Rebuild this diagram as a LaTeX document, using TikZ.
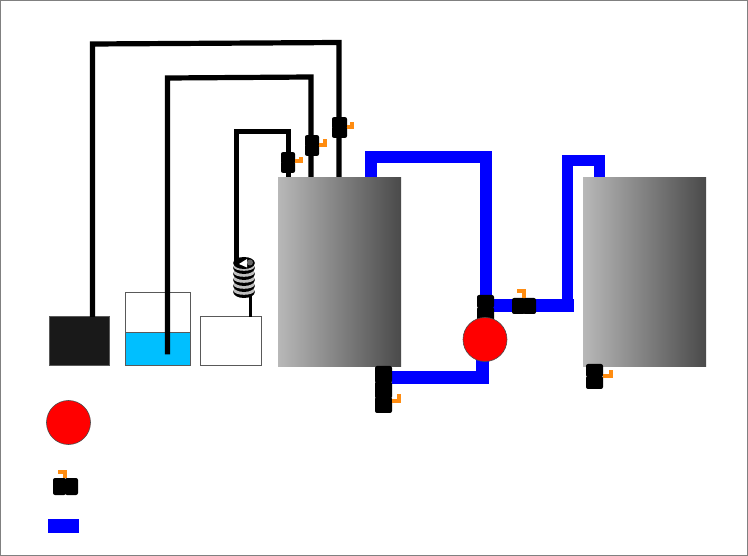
\documentclass[tikz,border=0pt]{standalone}
\usepackage{tikz}
\definecolor{tankleft}{HTML}{B8B8B8}
\definecolor{tankright}{HTML}{4A4A4A}
\definecolor{water}{HTML}{00BFFF}
\definecolor{handlecol}{HTML}{FF8C10}
\tikzset{
  tank/.style = {shape = rectangle, inner sep = 0pt, minimum width = 123pt, minimum height = 189pt, left color = tankleft, right color = tankright},
  box/.style = {shape = rectangle, inner sep = 0pt, draw = black!65, line width = 0.8pt},
  pump/.style = {shape = circle, inner sep = 0pt, minimum size = 44pt, fill = red, draw = black!70, line width = 0.6pt},
  wire/.style = {line width = 5.2pt, miter limit = 10},
  pipe/.style = {draw = blue, line width = 12pt},
  valvepart/.style = {shape = rectangle, inner sep = 0pt, fill = black, rounded corners = 2pt},
  handle/.style = {draw = handlecol, line width = 4pt}
}
\begin{document}
\begin{tikzpicture}[x = 1pt, y = -1pt]
\useasboundingbox (0,0) rectangle (748,556);
\draw[black!50, line width = 1.2pt] (0,0) rectangle (748,556);
% vessels
\node[box, fill = black!90, minimum width = 60pt, minimum height = 49pt] (source) at (79.3,341) {};
\node[box, minimum width = 65pt, minimum height = 73.5pt] (beaker) at (157.5,328.8) {};
\node[box, fill = water, minimum width = 65pt, minimum height = 33.5pt] (liquid) at (157.5,348.8) {};
\node[box, minimum width = 61pt, minimum height = 49pt] (trap) at (230.8,341) {};
% tubing to the first tank
\coordinate (a0) at (92.5,317);
\coordinate (a1) at (92.5,44);
\coordinate (a2) at (339,42.5);
\coordinate (a3) at (339,178);
\coordinate (b0) at (167.5,354.5);
\coordinate (b1) at (167.5,78);
\coordinate (b2) at (311,77);
\coordinate (b3) at (311,178);
\coordinate (c0) at (236.5,262);
\coordinate (c1) at (236.5,131.5);
\coordinate (c2) at (288.5,131.5);
\coordinate (c3) at (288.5,178);
\coordinate (d0) at (250.5,317);
\coordinate (d1) at (250.5,296);
\draw[wire] (a0) -- (a1) -- (a2) -- (a3);
\draw[wire] (b0) -- (b1) -- (b2) -- (b3);
\draw[wire] (c0) -- (c1) -- (c2) -- (c3);
\draw[line width = 3.5pt] (d0) -- (d1);
% cooling coil
\foreach \y in {292,286,280,274,268} {
  \fill[black] (244,\y) ellipse (10.8 and 6);
  \fill[black!25] (244,\y-1.2) ellipse (10.4 and 4);
  \fill[white] (244,\y-2.2) ellipse (8 and 2);
}
\fill[black] (244,263) ellipse (10.8 and 6);
\fill[black!60] (250,262.5) ellipse (3 and 3);
\fill[white] (239,264) -- (247,259) -- (247,267.5) -- cycle;
% blue loop
\coordinate (e0) at (371,178);
\coordinate (e1) at (371,157.5);
\coordinate (e2) at (486,157.5);
\coordinate (e3) at (486,305);
\coordinate (f0) at (573.5,305.5);
\coordinate (g0) at (567.5,305.5);
\coordinate (g1) at (567.5,161);
\coordinate (g2) at (599,161);
\coordinate (g3) at (599,178);
\coordinate (h0) at (392,377.5);
\coordinate (h1) at (482.5,377.5);
\coordinate (h2) at (482.5,350);
\draw[pipe] (e0) -- (e1) -- (e2) -- (e3);
\draw[pipe, line width = 13pt] (e3 |- f0) -- (f0);
\draw[pipe, line width = 11pt] (g0) -- (g1) -- (g2) -- (g3);
\draw[pipe, line width = 13pt] (h0) -- (h1) -- (h2);
% tanks
\node[tank] (tankA) at (339.5,272) {};
\node[tank] (tankB) at (644.5,272) {};
% valves
\node[valvepart, minimum width = 14pt, minimum height = 11.5pt] (v1a) at (288,157.8) {};
\node[valvepart, minimum width = 14pt, minimum height = 11.5pt] (v1b) at (288,167.2) {};
\node[valvepart, minimum width = 14pt, minimum height = 11.5pt] (v2a) at (312,140.8) {};
\node[valvepart, minimum width = 14pt, minimum height = 11.5pt] (v2b) at (312,150.2) {};
\node[valvepart, minimum width = 15pt, minimum height = 11.5pt] (v3a) at (339.5,122.8) {};
\node[valvepart, minimum width = 15pt, minimum height = 11.5pt] (v3b) at (339.5,132.2) {};
\node[valvepart, minimum width = 17pt, minimum height = 17pt] (v4a) at (383.5,374.5) {};
\node[valvepart, minimum width = 17pt, minimum height = 17pt] (v4b) at (383.5,390) {};
\node[valvepart, minimum width = 17pt, minimum height = 16pt] (v4c) at (383.5,405) {};
\node[valvepart, minimum width = 17pt, minimum height = 13pt] (v5a) at (594.5,370.5) {};
\node[valvepart, minimum width = 17pt, minimum height = 13pt] (v5b) at (594.5,382.5) {};
\node[valvepart, minimum width = 17pt, minimum height = 13pt] (v6a) at (485.5,301.5) {};
\node[valvepart, minimum width = 17pt, minimum height = 15pt] (v6b) at (485.5,314.5) {};
\node[valvepart, minimum width = 13pt, minimum height = 16pt] (v7a) at (518.5,306) {};
\node[valvepart, minimum width = 13pt, minimum height = 16pt] (v7b) at (529.5,306) {};
\node[valvepart, minimum width = 13pt, minimum height = 17pt] (v8a) at (59.5,486.5) {};
\node[valvepart, minimum width = 13pt, minimum height = 17pt] (v8b) at (71.5,486.5) {};
% handles
\draw[handle] (v1b.east |- 0,161.5) -| (301,157);
\draw[handle] (v2b.east |- 0,145) -| (324.5,139);
\draw[handle] (v3b.east |- 0,127) -| (352,122);
\draw[handle] (v4b.east |- 0,401) -| (399,394);
\draw[handle] (v5b.east |- 0,376) -| (610.5,370);
\draw[handle] (517,291) -| (523.5,298);
\draw[handle] (58,472) -| (65,478);
% pumps
\node[pump] (pumpA) at (485,339.5) {};
\node[pump] (pumpKey) at (68.5,422.5) {};
% pipe key
\node[shape = rectangle, inner sep = 0pt, fill = blue, minimum width = 31pt, minimum height = 14pt] (pipeKey) at (63.5,526) {};
\end{tikzpicture}
\end{document}
